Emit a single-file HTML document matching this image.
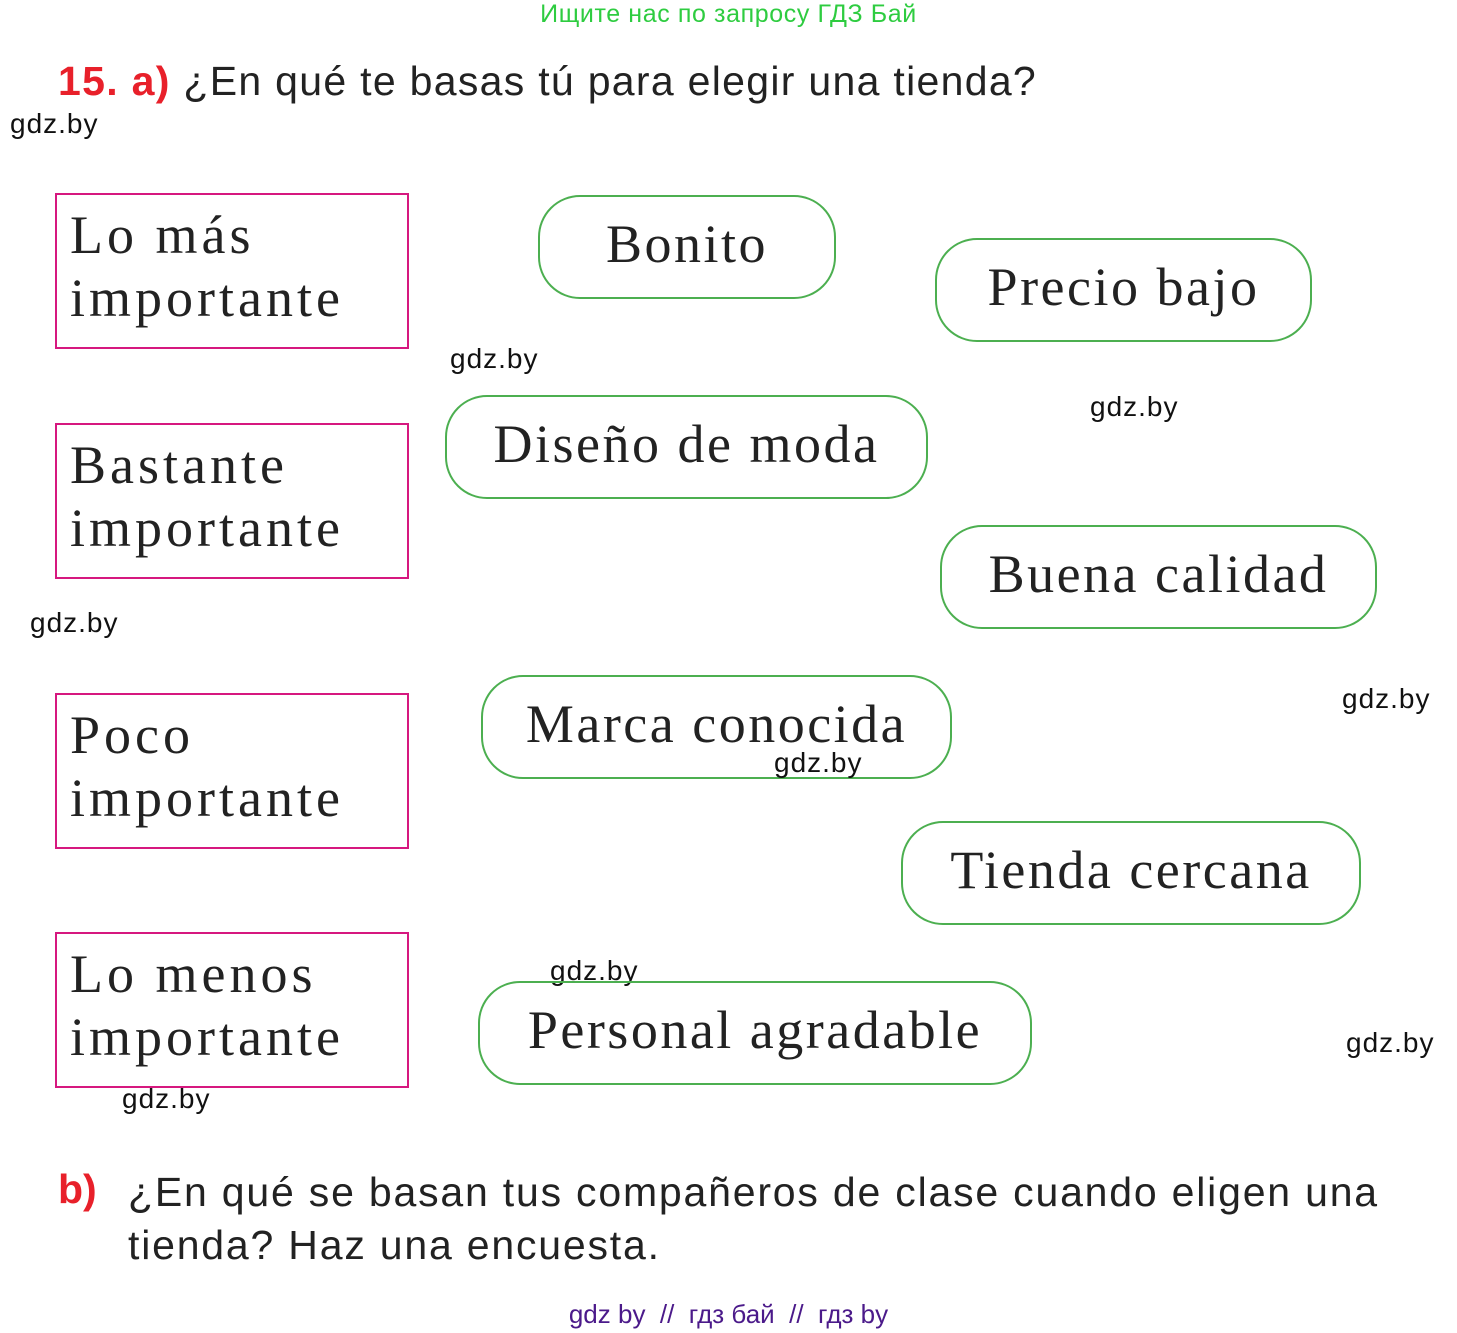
<!DOCTYPE html>
<html><head><meta charset="utf-8"><style>
body{margin:0;width:1457px;height:1333px;background:#fff;position:relative;overflow:hidden;font-family:"Liberation Sans",sans-serif}
.a{position:absolute;white-space:nowrap}
.box{position:absolute;left:55px;width:350px;height:152px;border:2px solid #d6187f}
.box span{position:absolute;left:13px;font-family:"Liberation Serif",serif;font-size:54px;letter-spacing:4px;color:#222;line-height:63px;top:9px}
.pill{position:absolute;border:2px solid #4caf50;border-radius:42px;font-family:"Liberation Serif",serif;font-size:54px;letter-spacing:2.5px;color:#222;text-align:center;line-height:94px;box-sizing:border-box;height:104px}
.w{position:absolute;font-size:28px;letter-spacing:1px;color:#111}
</style></head><body>
<div class="a" style="left:0;width:1457px;text-align:center;top:0;font-size:25px;letter-spacing:0.6px;color:#2ecc40">Ищите нас по запросу ГДЗ Бай</div>
<div class="a" style="left:58px;top:58px;font-size:41px;letter-spacing:1.3px;color:#222"><b style="color:#e8202a">15. a)</b> ¿En qué te basas tú para elegir una tienda?</div>
<div class="w" style="left:10px;top:108px">gdz.by</div>
<div class="w" style="left:450px;top:343px">gdz.by</div>
<div class="w" style="left:1090px;top:391px">gdz.by</div>
<div class="w" style="left:30px;top:607px">gdz.by</div>
<div class="w" style="left:1342px;top:683px">gdz.by</div>
<div class="w" style="left:550px;top:955px">gdz.by</div>
<div class="w" style="left:1346px;top:1027px">gdz.by</div>
<div class="w" style="left:122px;top:1083px">gdz.by</div>

<div class="box" style="top:193px"><span>Lo más<br>importante</span></div>
<div class="box" style="top:423px"><span>Bastante<br>importante</span></div>
<div class="box" style="top:693px"><span>Poco<br>importante</span></div>
<div class="box" style="top:932px"><span>Lo menos<br>importante</span></div>

<div class="pill" style="left:538px;top:195px;width:298px">Bonito</div>
<div class="pill" style="left:935px;top:238px;width:377px">Precio bajo</div>
<div class="pill" style="left:445px;top:395px;width:483px">Diseño de moda</div>
<div class="pill" style="left:940px;top:525px;width:437px">Buena calidad</div>
<div class="pill" style="left:481px;top:675px;width:471px">Marca conocida</div>
<div class="pill" style="left:901px;top:821px;width:460px">Tienda cercana</div>
<div class="pill" style="left:478px;top:981px;width:554px">Personal agradable</div>
<div class="w" style="left:774px;top:747px">gdz.by</div>

<div class="a" style="left:58px;top:1166px;font-size:41px;color:#e8202a;font-weight:bold">b)</div>
<div class="a" style="left:128px;top:1166px;font-size:41px;color:#222;letter-spacing:1.8px;line-height:53px">¿En qué se basan tus compañeros de clase cuando eligen una<br>tienda? Haz una encuesta.</div>
<div class="a" style="left:0;width:1457px;text-align:center;top:1299px;font-size:26px;color:#4b1a8a">gdz by &nbsp;// &nbsp;гдз бай &nbsp;// &nbsp;гдз by</div>
</body></html>
